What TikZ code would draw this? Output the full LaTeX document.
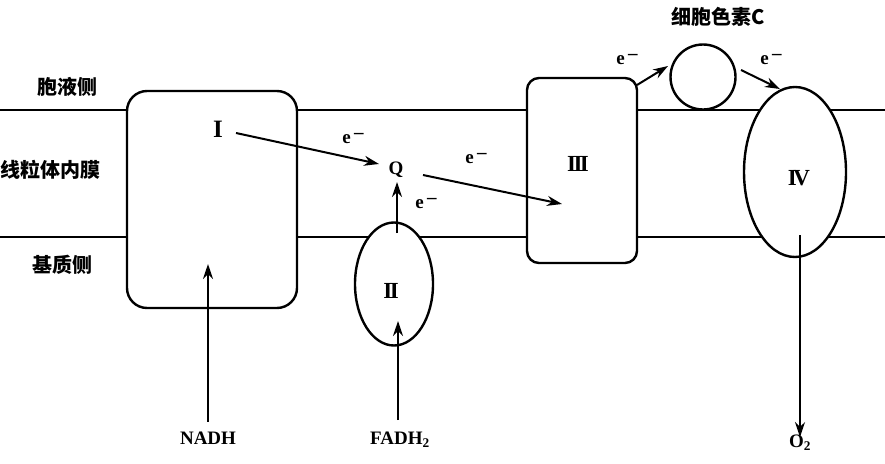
\documentclass[tikz,border=0pt]{standalone}
\usepackage{fontspec}
\setmainfont{Liberation Serif}
\newfontfamily\cjk{Noto Sans CJK SC}
\usetikzlibrary{arrows.meta,shapes.geometric}
\newcommand{\elec}{e\,\raisebox{5pt}{–}}
\begin{document}
\begin{tikzpicture}[x=1pt,y=-1pt,
  memb/.style={line width=2pt},
  shp/.style={draw, line width=2.4pt, fill=white, inner sep=0pt},
  arr/.style={line width=2pt, -{Stealth[length=15pt,width=10pt]}},
  lab/.style={font=\fontsize{19}{19}\selectfont\bfseries, inner sep=0pt},
  cj/.style={font=\cjk\fontsize{20}{20}\selectfont\bfseries, inner sep=0pt},
  rn/.style={font=\fontsize{23}{23}\selectfont\bfseries, inner sep=0pt}]
\useasboundingbox (0,0) rectangle (885,463);
% membrane
\draw[memb] (0,110) -- (885,110);
\draw[memb] (0,237) -- (885,237);
% complexes
\node[shp, rounded corners=20pt, minimum width=170pt, minimum height=217pt] (c1) at (212,199.5) {};
\node[shp, ellipse, minimum width=78pt, minimum height=123pt] (c2) at (394,284) {};
\node[shp, rounded corners=12pt, minimum width=110pt, minimum height=185pt] (c3) at (582,170.5) {};
\node[shp, circle, minimum size=65pt] (cyc) at (703,77) {};
\node[shp, ellipse, minimum width=102pt, minimum height=170pt] (c4) at (795,172) {};
% side labels
\node[cj] (cyto) at (67,87) {胞液侧};
\node[cj] (inner) at (50,170) {线粒体内膜};
\node[cj] (matrix) at (62,265) {基质侧};
\node[cj] (cytcl) at (718,17) {细胞色素C};
% roman numerals
\node[rn, font=\fontsize{25}{25}\selectfont\bfseries] (lI) at (218,129) {I};
\node[rn] (lII) at (391,291) {I\kern-2.5ptI};
\node[rn] (lIII) at (578,164) {I\kern-2.5ptI\kern-2.5ptI};
\node[rn] (lIV) at (799,178) {I\kern-3.5ptV};
\node[lab] (q) at (396,170) {Q};
% substrates
\node[lab] (nadh) at (208,438) {NADH};
\node[lab] (fadh) at (400,440) {FADH\textsubscript{2}};
\node[lab] (o2) at (800,443) {O\textsubscript{2}};
% electron labels
\node[lab] (e1) at (353,139) {\elec};
\node[lab] (e2) at (426,204) {\elec};
\node[lab] (e3) at (476,159) {\elec};
\node[lab] (e4) at (627,60) {\elec};
\node[lab] (e5) at (771,60) {\elec};
% connector end points
\coordinate (a1s) at (236,133);
\coordinate (a1e) at (379,164);
\coordinate (a2s) at (397,233);
\coordinate (a2e) at (397,182);
\coordinate (a3s) at (423,175);
\coordinate (a3e) at (562,204);
\coordinate (a4s) at (637,85);
\coordinate (a4e) at (668,66);
\coordinate (a5s) at (741,70);
\coordinate (a5e) at (780,89);
\coordinate (a6s) at (o2.north |- 0,235);
\coordinate (nadhtip) at (208,264);
\coordinate (fadhtip) at (398,321);
% arrows
\draw[arr] (a1s) -- (a1e);
\draw[arr] (a2s) -- (a2e);
\draw[arr] (a3s) -- (a3e);
\draw[arr] (a4s) -- (a4e);
\draw[arr] (a5s) -- (a5e);
\draw[arr] (a6s) -- ([yshift=-2pt]o2.north);
\draw[arr] (nadh.north) ++(0,-10) -- (nadhtip);
\draw[arr] (fadh.north) ++(-2,-12) -- (fadhtip);
\end{tikzpicture}
\end{document}
